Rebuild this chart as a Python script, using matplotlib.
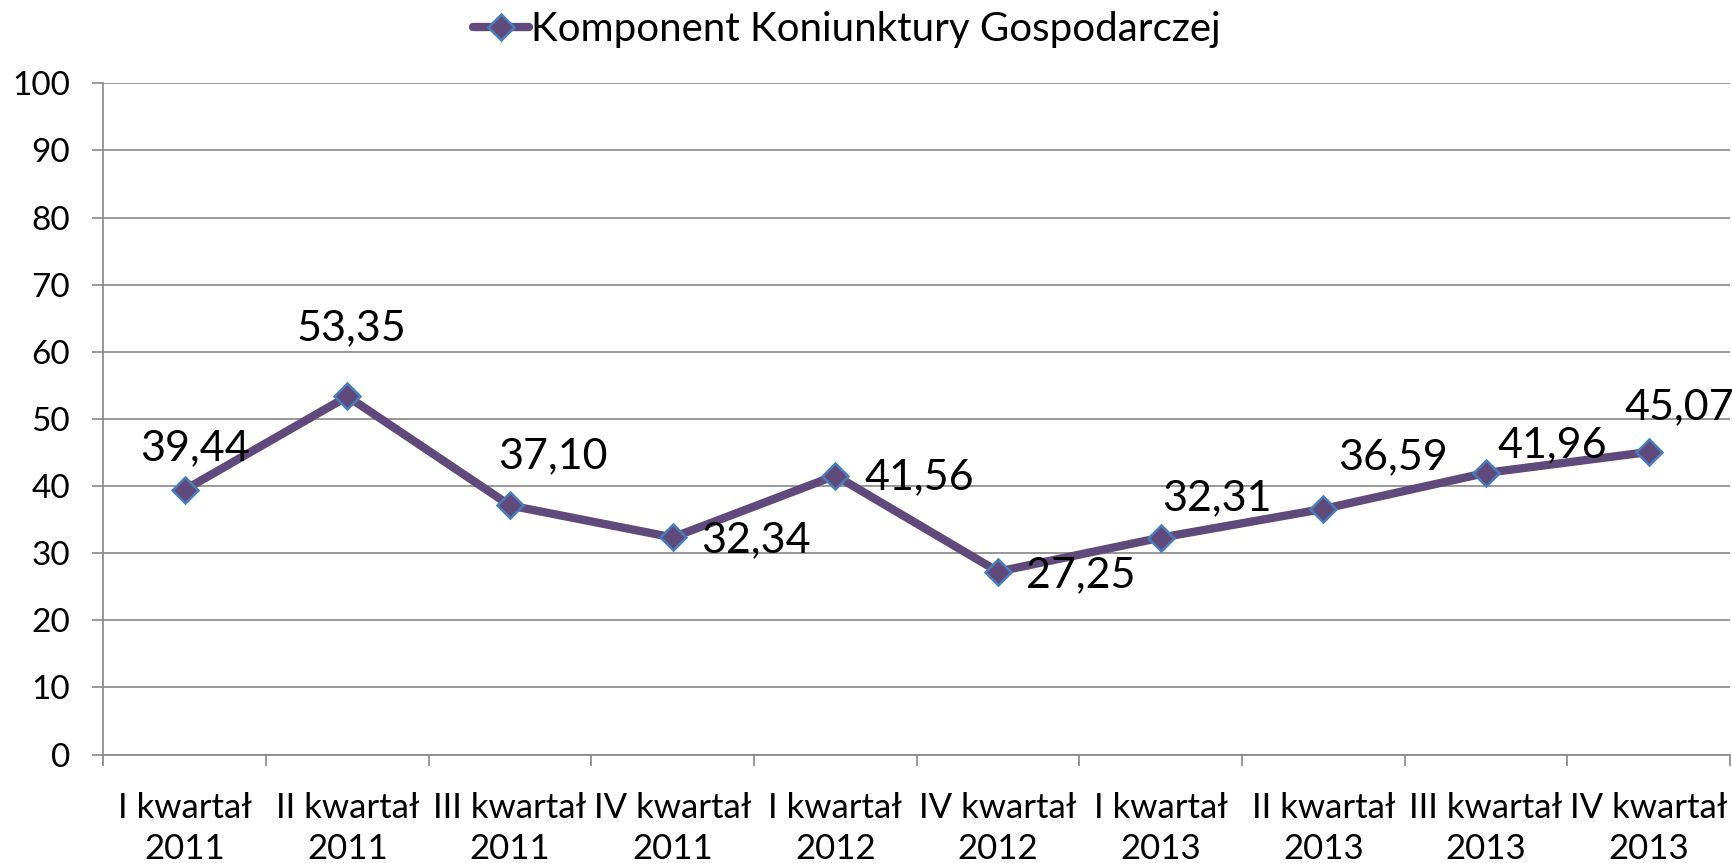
import matplotlib
matplotlib.use('Agg')
import matplotlib.pyplot as plt
import numpy as np

# dane
kwartaly = ['I kwartał\n2011', 'II kwartał\n2011', 'III kwartał\n2011', 'IV kwartał\n2011',
            'I kwartał\n2012', 'IV kwartał\n2012', 'I kwartał\n2013', 'II kwartał\n2013',
            'III kwartał\n2013', 'IV kwartał\n2013']
wartosci = [39.44, 53.35, 37.10, 32.34, 41.56, 27.25, 32.31, 36.59, 41.96, 45.07]
seria = 'Komponent Koniunktury Gospodarczej'

# przesuniecia etykiet (piksele)
offsety = [(10, 42), (4, 68), (43, 49), (83, -3), (84, -2), (83, -4),
           (56, 39), (70, 52), (66, 28), (31, 45)]

plt.rcParams['font.family'] = ['Lato', 'DejaVu Sans']

fig = plt.figure(figsize=(17.33, 8.63), dpi=100)
ax = fig.add_axes([0.0597, 0.1257, 0.9386, 0.7778])

x = np.arange(len(wartosci))
ax.plot(x, wartosci, color='#604A7B', lw=6, marker='D', ms=13,
        markerfacecolor='#604A7B', markeredgecolor='#4A7EBB', mew=1.8,
        label=seria, solid_capstyle='round', zorder=3)

for xi, v, (dx, dy) in zip(x, wartosci, offsety):
    ax.annotate(('%.2f' % v).replace('.', ','), (xi, v), xytext=(dx, dy),
                textcoords='offset pixels', ha='center', va='center',
                fontsize=31, color='black', zorder=4)

ax.set_xlim(-0.5, len(wartosci) - 0.5)
ax.set_ylim(0, 100)
ax.set_yticks(range(0, 101, 10))
ax.yaxis.grid(True, color='#868686', lw=1.2)
ax.set_axisbelow(True)

ax.set_xticks(x)
ax.set_xticklabels(kwartaly, fontsize=25, linespacing=1.34)
ax.set_xticks(np.arange(-0.5, len(wartosci)), minor=True)
ax.tick_params(axis='x', which='major', length=0, pad=27)
ax.tick_params(axis='x', which='minor', length=8, color='#868686', width=1.2)
ax.tick_params(axis='y', length=8, color='#868686', width=1.2, labelsize=24, pad=16)

for s in ['top', 'right']:
    ax.spines[s].set_visible(False)
for s in ['left', 'bottom']:
    ax.spines[s].set_color('#868686')
    ax.spines[s].set_linewidth(1.2)

leg = fig.legend(loc='center', bbox_to_anchor=(0.4885, 0.966), frameon=False,
                 fontsize=29, handlelength=1.4, handletextpad=0.05)

fig.savefig('out.png', dpi=100)
